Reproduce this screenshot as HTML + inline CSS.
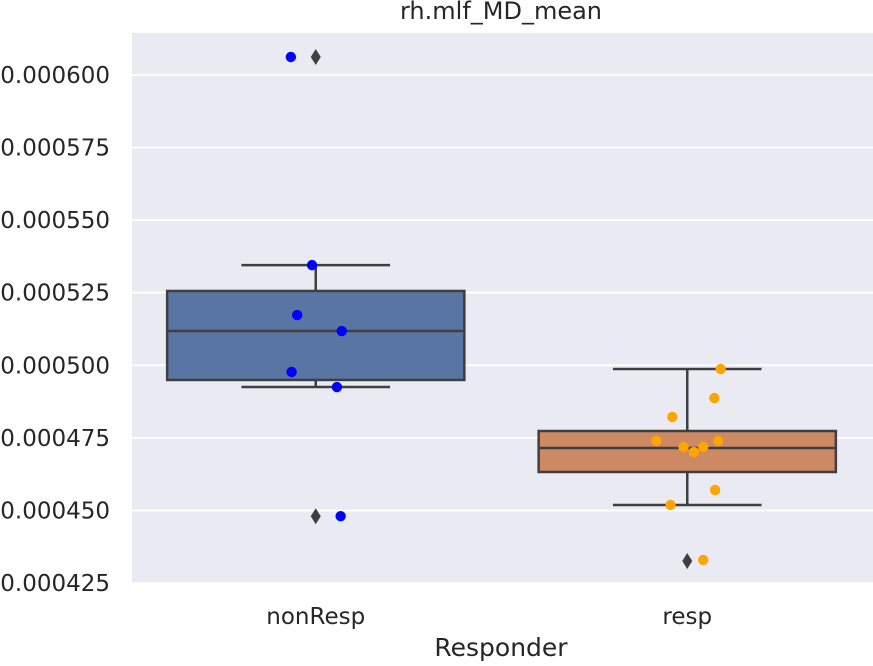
<!DOCTYPE html>
<html><head><meta charset="utf-8"><style>
body{margin:0;background:#fff;width:873px;height:661px;overflow:hidden}
svg text{font-family:"DejaVu Sans","Liberation Sans",sans-serif;fill:#262626}
</style></head><body>
<svg id="chart" width="873" height="661" xmlns="http://www.w3.org/2000/svg"></svg>
<script>
const categories=["nonResp","resp"];
const q1=[0.000494945,0.00046324];
const median=[0.0005118,0.00047151];
const q3=[0.0005256,0.00047736];
const whiskLow=[0.0004925,0.00045187];
const whiskHigh=[0.0005345,0.0004987];
const outliers=[[0.0006062,0.000448],[0.00043257]];
const ptsNon=[0.0006062,0.0005345,0.0005173,0.0005118,0.0004977,0.0004925,0.000448];
const jitNon=[-0.067,-0.01,-0.05,0.07,-0.065,0.057,0.067];
const ptsResp=[0.00049872,0.00048873,0.00048218,0.00047392,0.00047392,0.00047185,0.00047185,0.00047012,0.00045704,0.00045187,0.00043292];
const jitResp=[0.09,0.073,-0.04,-0.083,0.083,-0.01,0.043,0.018,0.075,-0.045,0.043];
const yTicks=[0.000425,0.00045,0.000475,0.0005,0.000525,0.00055,0.000575,0.0006];
const tickLabels=["0.000425","0.000450","0.000475","0.000500","0.000525","0.000550","0.000575","0.000600"];
const NS="http://www.w3.org/2000/svg",svg=document.getElementById('chart');
const L=132,R=873,T=33,B=584;
const y=v=>75+(0.0006-v)/0.000025*72.57;
const band=(R-L+2)/2, x=i=>130+band*(i+0.5);
function mk(t,a,p){const e=document.createElementNS(NS,t);for(const k in a)e.setAttribute(k,a[k]);(p||svg).appendChild(e);return e;}
const bg=mk('rect',{x:L,y:T,width:R-L,height:B-T,fill:'#eaeaf2'});


yTicks.forEach((v,i)=>{
 const g=mk('line',{x1:L,x2:R,y1:y(v),y2:y(v),stroke:'#fff','stroke-width':1.8});
 
 
 const t=mk('text',{x:110,y:y(v)+8,'text-anchor':'end','font-size':23});
 t.textContent=tickLabels[i];
 
 
});
const fills=['#5875a4','#cc8963'],dot=['#0000ff','#ffa500'];
const ln='#3f3f3f';
categories.forEach((c,i)=>{
 const cx=x(i),hw=band*0.4,cw=band*0.2;
 const g=mk('g',{});
 
 
 mk('line',{x1:cx,x2:cx,y1:y(q3[i]),y2:y(whiskHigh[i]),stroke:ln,'stroke-width':2.5},g);
 mk('line',{x1:cx,x2:cx,y1:y(q1[i]),y2:y(whiskLow[i]),stroke:ln,'stroke-width':2.5},g);
 mk('line',{x1:cx-cw,x2:cx+cw,y1:y(whiskHigh[i]),y2:y(whiskHigh[i]),stroke:ln,'stroke-width':2.5},g);
 mk('line',{x1:cx-cw,x2:cx+cw,y1:y(whiskLow[i]),y2:y(whiskLow[i]),stroke:ln,'stroke-width':2.5},g);
 mk('rect',{x:cx-hw,y:y(q3[i]),width:2*hw,height:y(q1[i])-y(q3[i]),fill:fills[i],stroke:ln,'stroke-width':2.5},g);
 mk('line',{x1:cx-hw,x2:cx+hw,y1:y(median[i]),y2:y(median[i]),stroke:ln,'stroke-width':2.5},g);
 outliers[i].forEach(v=>{const yy=y(v);
  const o=mk('polygon',{points:`${cx},${yy-8} ${cx+5},${yy} ${cx},${yy+8} ${cx-5},${yy}`,fill:ln},g);
  
  
 });
 const t=mk('text',{x:cx,y:624,'text-anchor':'middle','font-size':23});
 t.textContent=c;
 
 
});
[[ptsNon,jitNon],[ptsResp,jitResp]].forEach(([p,j],i)=>{
 p.forEach((v,k)=>{
  const d=mk('circle',{cx:x(i)+j[k]*band,cy:y(v),r:5.2,fill:dot[i]});
  
  
 });
});
const xt=mk('text',{x:501,y:656,'text-anchor':'middle','font-size':25});
xt.textContent='Responder';


const tt=mk('text',{x:501,y:19,'text-anchor':'middle','font-size':24});
tt.textContent='rh.mlf_MD_mean';


</script>
</body></html>
